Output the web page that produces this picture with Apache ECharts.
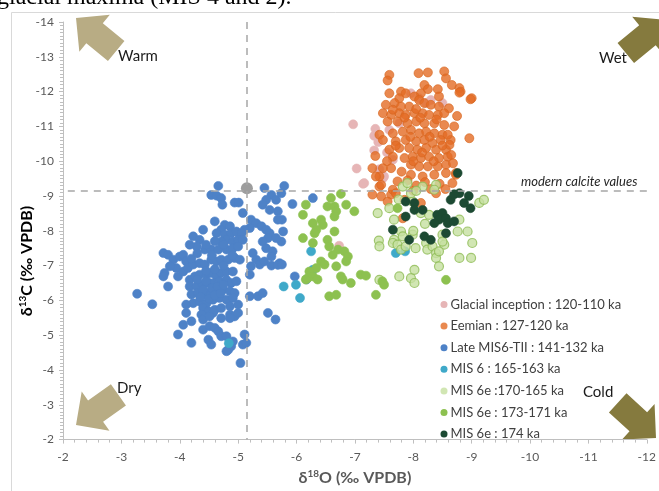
<!DOCTYPE html>
<html><head><meta charset="utf-8">
<script src="https://cdn.jsdelivr.net/npm/echarts@6/dist/echarts.min.js"></script>
<style>html,body{margin:0;padding:0;background:#fff}#c{width:659px;height:491px}</style>
</head><body><div id="c"></div>
<script>
const legendNames = ["Glacial inception : 120-110 ka","Eemian : 127-120 ka","Late MIS6-TII : 141-132 ka","MIS 6 : 165-163 ka","MIS 6e :170-165 ka","MIS 6e : 173-171 ka","MIS 6e : 174 ka"];
const xTicks = [-2,-3,-4,-5,-6,-7,-8,-9,-10,-11,-12];
const yTicks = [-2,-3,-4,-5,-6,-7,-8,-9,-10,-11,-12,-13,-14];
const modernD18O = -5.15;
const modernD13C = -9.15;

const glacialInception = [[-6.97,-11.06],[-7.35,-10.93],[-7.33,-10.73],[-7.59,-10.90],[-7.33,-10.31],[-7.03,-9.79],[-7.14,-9.35],[-7.42,-9.77],[-7.50,-9.56],[-7.96,-11.95],[-8.10,-11.81],[-8.22,-11.67],[-7.76,-11.09],[-8.30,-11.76],[-8.50,-11.67],[-7.65,-10.04],[-7.48,-9.51],[-7.16,-9.37],[-6.73,-7.57],[-7.40,-10.55],[-7.55,-10.25]];

const eemian = [[-7.59,-12.48],[-7.56,-12.32],[-8.09,-12.53],[-8.25,-12.55],[-8.53,-12.58],[-8.56,-12.38],[-8.66,-12.19],[-8.79,-12.10],[-8.81,-12.00],[-9.00,-11.81],[-8.96,-10.66],
[-8.19,-12.19],[-8.25,-12.07],[-8.13,-11.95],[-8.42,-12.07],[-8.44,-11.86],
[-7.59,-11.95],[-7.79,-12.00],[-7.87,-11.95],[-7.76,-11.81],
[-8.02,-11.86],[-8.10,-11.76],[-8.19,-11.67],[-8.30,-11.62],[-8.44,-11.57],[-8.61,-11.52],
[-7.53,-11.62],[-7.68,-11.67],[-7.79,-11.57],[-7.93,-11.57],
[-7.48,-11.38],[-7.62,-11.33],[-7.76,-11.38],[-7.87,-11.33],[-8.02,-11.38],[-8.16,-11.38],[-8.27,-11.33],[-8.42,-11.33],[-8.53,-11.38],
[-7.56,-11.14],[-7.73,-11.14],[-7.90,-11.09],[-8.05,-11.14],[-8.19,-11.09],[-8.36,-11.09],[-8.53,-11.04],
[-7.42,-10.76],[-7.65,-10.80],[-7.82,-10.85],[-7.96,-10.90],[-8.10,-10.80],[-8.22,-10.85],[-8.36,-10.80],[-8.50,-10.76],
[-7.48,-10.61],[-7.70,-10.57],[-7.87,-10.61],[-8.05,-10.57],[-8.19,-10.61],[-8.33,-10.52],[-8.47,-10.61],[-8.64,-10.61],
[-7.59,-10.33],[-7.76,-10.38],[-7.93,-10.38],[-8.07,-10.33],[-8.22,-10.38],[-8.39,-10.33],[-8.56,-10.33],
[-7.65,-10.13],[-7.85,-10.09],[-7.99,-10.13],[-8.13,-10.09],[-8.27,-10.13],[-8.44,-10.09],[-8.59,-10.13],
[-7.30,-9.80],[-7.48,-9.80],[-7.62,-9.80],[-7.96,-9.90],[-8.10,-9.85],[-8.25,-9.85],[-8.42,-9.85],[-8.56,-9.90],
[-7.42,-9.56],[-7.96,-9.61],[-8.16,-9.56],[-8.36,-9.61],[-8.56,-9.66],[-8.73,-9.61],
[-7.30,-9.04],[-7.45,-8.99],[-7.62,-9.04],[-7.42,-9.27],[-7.73,-9.42],[-7.65,-9.18],
[-7.56,-8.84],[-7.70,-9.08],[-7.85,-8.89],[-8.13,-8.80],[-8.39,-9.08],[-8.67,-9.37],[-7.36,-9.56],[-7.45,-9.32],[-7.82,-8.36],
[-8.98,-11.78],[-8.79,-11.97],[-8.59,-10.76],[-8.62,-10.47],[-8.65,-10.18],[-8.68,-9.94],[-8.73,-9.66],
[-7.80,-9.70],[-7.90,-9.45],[-8.05,-9.30],[-8.20,-9.40],[-8.30,-9.20],[-8.45,-9.35],[-8.00,-10.00],[-8.35,-10.00],[-8.15,-10.25],[-7.95,-10.70],[-8.28,-10.70],[-7.85,-11.25],[-8.12,-11.25],[-8.40,-11.20],[-7.65,-11.48],[-8.05,-11.50],[-7.70,-10.45],[-8.50,-10.45],[-7.55,-10.00],[-8.75,-11.30],[-8.70,-11.00],[-7.35,-10.15],[-8.00,-9.15],[-8.55,-9.20]];

const lateMIS6 = [[-4.66,-9.29],[-4.54,-9.03],[-4.63,-9.01],[-4.71,-8.94],[-4.73,-8.75],[-4.94,-8.81],[-5.01,-8.81],[-5.08,-8.51],
[-5.45,-9.23],[-5.57,-9.03],[-5.48,-8.89],[-5.42,-8.75],[-5.54,-8.60],[-5.65,-8.89],[-5.68,-8.56],
[-5.79,-9.29],[-5.74,-9.08],[-5.93,-8.77],[-5.75,-8.32],[-5.77,-7.98],[-5.74,-7.69],[-5.71,-7.07],
[-5.22,-8.32],[-5.31,-8.22],[-5.40,-8.13],[-5.48,-8.03],[-5.54,-7.93],[-5.51,-7.79],[-5.42,-7.69],[-5.48,-7.50],[-5.59,-7.41],[-5.57,-7.26],[-5.65,-7.79],[-5.68,-8.32],
[-5.20,-8.08],[-5.11,-8.03],[-5.03,-7.89],
[-5.25,-7.36],[-5.31,-7.17],[-5.22,-6.98],[-5.37,-7.03],[-5.45,-7.12],[-5.57,-7.00],[-5.68,-7.02],
[-5.20,-6.74],[-5.20,-6.12],[-5.34,-6.12],[-5.42,-6.21],[-5.51,-5.64],[-5.64,-5.45],
[-5.11,-5.02],[-5.08,-4.73],[-5.14,-4.78],[-5.04,-4.20],[-4.83,-4.58],[-4.88,-4.68],[-4.80,-4.54],
[-6.28,-8.94],[-5.97,-6.69],[-6.17,-6.60],[-5.75,-7.03],
[-4.60,-8.27],[-4.77,-8.17],[-4.86,-8.13],[-4.71,-8.03],[-4.63,-7.93],[-4.77,-7.89],[-4.88,-7.93],[-4.97,-7.98],[-5.06,-7.93],[-4.80,-7.74],[-4.71,-7.69],[-4.91,-7.69],[-5.00,-7.74],[-5.08,-7.74],
[-4.40,-8.03],[-4.23,-7.84],[-4.34,-7.74],[-4.29,-7.55],[-4.17,-7.60],[-4.43,-7.46],[-4.54,-7.46],[-4.66,-7.46],[-4.80,-7.46],[-4.91,-7.50],[-5.00,-7.55],
[-3.72,-7.36],[-3.80,-7.31],[-3.89,-7.17],[-4.00,-7.26],[-4.06,-7.31],[-4.11,-7.12],[-3.94,-6.93],[-3.83,-6.98],[-3.74,-6.79],[-3.72,-6.69],[-3.97,-6.69],[-4.06,-6.83],[-4.14,-6.93],[-4.23,-7.03],[-4.34,-7.07],[-4.43,-7.03],[-4.54,-7.17],[-4.63,-7.12],[-4.71,-7.17],[-4.83,-7.17],[-4.94,-7.22],[-5.03,-7.17],
[-3.80,-6.40],[-4.17,-6.59],[-4.26,-6.69],[-4.34,-6.74],[-4.46,-6.74],[-4.54,-6.79],[-4.63,-6.69],[-4.71,-6.79],[-4.80,-6.83],[-4.91,-6.83],
[-4.17,-6.40],[-4.29,-6.40],[-4.40,-6.45],[-4.51,-6.50],[-4.60,-6.50],[-4.68,-6.55],[-4.80,-6.59],[-4.88,-6.50],[-4.97,-6.55],
[-4.20,-6.17],[-4.31,-6.21],[-4.40,-6.17],[-4.51,-6.21],[-4.63,-6.26],[-4.74,-6.31],[-4.86,-6.26],[-4.94,-6.21],
[-4.23,-5.92],[-4.34,-5.97],[-4.46,-5.92],[-4.57,-6.02],[-4.68,-6.07],[-4.80,-6.02],[-4.91,-6.07],
[-4.11,-5.88],[-4.40,-5.78],[-4.49,-5.69],[-4.60,-5.73],[-4.71,-5.78],[-4.86,-5.83],[-5.00,-5.88],
[-3.27,-6.19],[-3.53,-5.89],
[-4.11,-5.64],[-4.37,-5.59],[-4.57,-5.64],[-4.86,-5.59],[-4.94,-5.54],[-5.00,-5.64],
[-4.40,-5.45],[-4.51,-5.54],[-4.71,-5.49],[-4.86,-5.49],
[-4.06,-5.30],[-4.20,-5.40],[-4.40,-5.16],[-4.51,-5.26],[-4.60,-5.21],[-4.66,-5.11],[-4.71,-4.97],
[-3.97,-5.02],[-4.20,-4.78],[-4.49,-4.87],[-4.54,-4.73],[-4.80,-4.97],[-4.91,-4.82],
[-4.30,-6.60],[-4.45,-6.55],[-4.55,-6.35],[-4.65,-6.40],[-4.75,-6.45],[-4.40,-6.30],[-4.50,-6.05],[-4.60,-6.15],[-4.70,-6.20],[-4.35,-6.10],[-4.45,-6.85],[-4.60,-6.90],[-4.75,-7.00],[-4.55,-7.30],[-4.45,-7.60],[-4.60,-7.70],[-4.75,-7.60],[-4.90,-7.30],[-4.20,-7.20],[-4.30,-7.35]];

const mis6 = [[-4.84,-4.77],[-5.78,-6.40],[-5.99,-6.45],[-6.06,-6.07],[-6.25,-7.41],[-6.28,-6.88],[-7.70,-7.36],[-7.86,-7.41]];

const mis6e170 = [[-7.39,-8.51],[-7.59,-8.65],[-7.67,-8.32],[-7.82,-9.27],[-7.90,-9.37],[-7.99,-8.84],[-8.13,-8.51],[-8.27,-8.46],[-8.16,-9.27],[-8.39,-9.32],[-8.36,-9.18],[-7.96,-9.08],
[-7.79,-7.98],[-7.82,-7.84],[-7.67,-7.74],[-7.65,-7.65],[-7.73,-7.60],[-7.79,-7.46],[-7.87,-7.55],[-7.99,-7.89],[-8.04,-7.50],[-8.22,-7.65],[-8.24,-7.46],[-8.33,-7.55],[-8.39,-7.36],[-8.39,-7.22],[-8.50,-7.89],[-8.53,-7.60],[-8.44,-7.41],[-8.50,-7.69],
[-8.76,-7.98],[-8.93,-7.98],[-9.01,-7.65],[-8.79,-7.22],[-8.99,-7.22],[-8.44,-6.98],
[-9.13,-8.80],[-9.21,-8.89],[-8.79,-8.32],
[-7.76,-6.69],[-7.96,-6.64],[-8.02,-6.50],[-8.02,-6.88],[-7.42,-6.59],
[-7.41,-7.72],[-7.42,-7.55],[-8.00,-8.00],[-8.20,-8.20],[-7.75,-8.90],[-8.05,-9.15]];

const mis6e173 = [[-6.16,-8.75],[-6.11,-8.46],[-6.28,-8.22],[-6.42,-8.32],[-6.45,-8.17],[-6.34,-8.03],[-6.31,-7.93],[-6.53,-8.70],[-6.65,-8.70],[-6.68,-8.56],[-6.65,-8.41],[-6.85,-8.75],[-6.99,-8.56],[-6.59,-8.94],[-6.76,-9.06],
[-6.11,-7.79],[-6.28,-7.65],[-6.53,-7.74],[-6.65,-7.98],[-6.56,-7.55],[-6.71,-7.46],[-6.82,-7.41],[-6.88,-7.26],[-6.85,-7.12],[-6.62,-7.31],
[-6.42,-7.12],[-6.48,-7.03],[-6.34,-6.93],[-6.22,-6.83],[-6.28,-6.69],[-6.36,-6.60],[-6.19,-6.64],[-6.68,-6.98],[-6.76,-6.69],[-6.93,-6.50],[-6.79,-6.60],[-7.10,-6.74],[-7.19,-6.71],
[-6.56,-6.12],[-6.68,-6.16],[-7.36,-6.16],[-7.47,-6.55],[-7.50,-6.45],[-8.56,-6.59],[-7.73,-8.65],[-6.16,-6.60]];

const mis6e174 = [[-8.76,-9.66],[-8.79,-9.08],[-8.64,-8.89],[-8.87,-8.80],[-8.98,-8.65],[-7.87,-8.84],[-8.02,-8.80],[-8.02,-8.60],[-7.87,-8.41],[-8.41,-8.46],[-8.50,-8.51],[-8.44,-8.32],[-8.56,-8.36],[-8.59,-8.22],[-8.70,-8.27],[-8.36,-8.22],[-8.56,-7.93],[-7.65,-8.03],[-7.93,-7.74],[-8.19,-7.84],[-8.30,-7.74],[-8.16,-8.60],[-8.70,-9.05],[-8.95,-9.00]];

const modernCalcite = [[-5.15,-9.22]];

const chart = echarts.init(document.getElementById('c'), null, {renderer:'canvas'});
const FONT = 'Lato';

function arrowPts(tx, ty, dx, dy) {
  const len = Math.hypot(dx, dy); dx /= len; dy /= len;
  const nx = -dy, ny = dx;
  const h = 24, w = 24, s = 13, L = 52;
  return [[tx,ty],
    [tx+dx*h+nx*w, ty+dy*h+ny*w],
    [tx+dx*h+nx*s, ty+dy*h+ny*s],
    [tx+dx*L+nx*s, ty+dy*L+ny*s],
    [tx+dx*L-nx*s, ty+dy*L-ny*s],
    [tx+dx*h-nx*s, ty+dy*h-ny*s],
    [tx+dx*h-nx*w, ty+dy*h-ny*w]];
}
const LIGHT = '#b8ac84', DARK = '#857a3e';

function sc(name, data, color, extra) {
  return Object.assign({
    name, type:'scatter', data, symbolSize: 9,
    itemStyle: {color, borderColor: color, borderWidth: 0.6, opacity: 1},
    emphasis: {disabled: true}, animation: false
  }, extra || {});
}

const nameRich = {
  a: {fontSize: 16, fontWeight: 'bold', color: '#595959', fontFamily: FONT, lineHeight: 19},
  s: {fontSize: 10, fontWeight: 'bold', color: '#595959', fontFamily: FONT, verticalAlign: 'top', lineHeight: 11}
};

const option = {
  backgroundColor: '#fff',
  animation: false,
  grid: {left: 63, right: 11, top: 22, bottom: 51, containLabel: false},
  xAxis: {
    type: 'value', min: -12, max: -2, interval: 1, inverse: true,
    axisLine: {show: true, onZero: false, lineStyle: {color: '#bfbfbf'}},
    axisTick: {show: true, length: 4, lineStyle: {color: '#bfbfbf'}},
    minorTick: {show: true, splitNumber: 5, length: 3, lineStyle: {color: '#bfbfbf'}},
    splitLine: {show: false},
    axisLabel: {color: '#595959', fontSize: 12, fontFamily: FONT, margin: 12},
    name: '{a|δ}{s|18}{a|O (‰ VPDB)}', nameLocation: 'middle', nameGap: 28,
    nameTextStyle: {rich: nameRich}
  },
  yAxis: {
    type: 'value', min: -14, max: -2, interval: 1, inverse: true,
    axisLine: {show: true, onZero: false, lineStyle: {color: '#bfbfbf'}},
    axisTick: {show: true, length: 4, lineStyle: {color: '#bfbfbf'}},
    minorTick: {show: true, splitNumber: 10, length: 3, lineStyle: {color: '#bfbfbf'}},
    splitLine: {show: false},
    axisLabel: {color: '#595959', fontSize: 12, fontFamily: FONT, margin: 9}
  },
  legend: {
    data: legendNames, orient: 'vertical', left: 435.5, top: 293,
    icon: 'circle', itemWidth: 7, itemHeight: 7, itemGap: 8.6,
    itemStyle: {borderWidth: 0},
    textStyle: {fontSize: 13, color: '#404040', fontFamily: FONT, padding: [0,0,0,-2]},
    selectedMode: false
  },
  graphic: [
    {type:'rect', shape:{x:11.5, y:12.5, width:700, height:600}, style:{fill:'none', stroke:'#d9d9d9', lineWidth:1}, z: 0, silent:true},
    {type:'text', x:-3, y:-14, style:{text:'glacial maxima (MIS 4 and 2).', font:'24px "Liberation Serif"', fill:'#000'}, silent:true},
    {type:'text', x:27, y:261, rotation: Math.PI/2, style:{text:'{a|δ}{s|13}{a|C (‰ VPDB)}', rich: nameRich, align:'center', verticalAlign:'middle'}, silent:true},
    {type:'polygon', shape:{points: arrowPts(76,18,39,32)}, style:{fill:LIGHT}, silent:true},
    {type:'polygon', shape:{points: arrowPts(76,425,39.5,-28)}, style:{fill:LIGHT}, silent:true},
    {type:'polygon', shape:{points: arrowPts(666,20,-39,32)}, style:{fill:DARK}, silent:true},
    {type:'polygon', shape:{points: arrowPts(656,438,-37,-34)}, style:{fill:DARK}, silent:true},
    {type:'text', x:118, y:49, style:{text:'Warm', font:'15px Lato', fill:'#1a1a1a'}, silent:true},
    {type:'text', x:599, y:51, style:{text:'Wet', font:'15px Lato', fill:'#1a1a1a'}, silent:true},
    {type:'text', x:117, y:381, style:{text:'Dry', font:'15px Lato', fill:'#1a1a1a'}, silent:true},
    {type:'text', x:583, y:385, style:{text:'Cold', font:'15px Lato', fill:'#1a1a1a'}, silent:true},
    {type:'text', x:521, y:175, style:{text:'modern calcite values', font:'italic 13px Lato', fill:'#262626'}, silent:true}
  ],
  series: [
    {type:'scatter', data: [], silent: true, z: 1,
      markLine: {silent: true, symbol: 'none', animation: false, label: {show: false},
        lineStyle: {type: [7,6], color: '#a6a6a6', width: 1.5},
        data: [{xAxis: modernD18O}, {yAxis: modernD13C}]}},
    sc(legendNames[0], glacialInception, '#e6b5b6'),
    sc(legendNames[1], eemian, '#e46c24', {itemStyle:{color:'#e46c24', borderColor:'#d8661f', borderWidth:0.8}}),
    sc(legendNames[2], lateMIS6, '#4e82c7'),
    sc(legendNames[3], mis6, '#3fa9c9'),
    sc(legendNames[4], mis6e170, '#c5e0a0', {itemStyle:{color:'#c5e0a0', borderColor:'#8fbb55', borderWidth:1.2}}),
    sc(legendNames[5], mis6e173, '#8dc150'),
    sc(legendNames[6], mis6e174, '#1c4a33'),
    {type:'scatter', name:'modern', data: modernCalcite, symbolSize: 12, itemStyle:{color:'#858585'}, emphasis:{disabled:true}, z: 3}
  ]
};
chart.setOption(option);
</script>
</body></html>
